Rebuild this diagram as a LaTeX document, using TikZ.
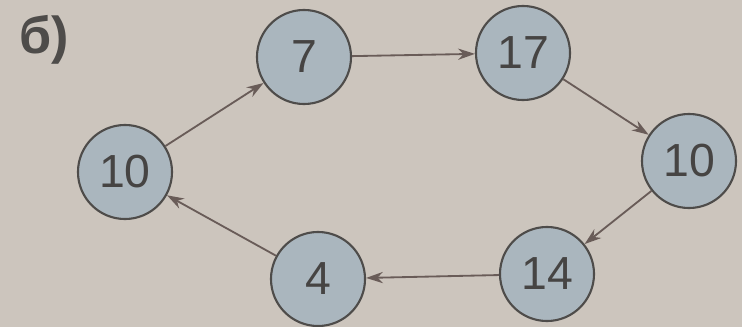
\documentclass[tikz,border=0pt]{standalone}
\usepackage{fontspec}
\setmainfont{Liberation Sans}
\usetikzlibrary{arrows.meta}
\definecolor{paper}{RGB}{204,197,189}
\definecolor{nodefill}{RGB}{170,182,190}
\definecolor{rim}{RGB}{78,76,74}
\definecolor{arrowcol}{RGB}{105,92,88}

\begin{document}
\begin{tikzpicture}[x=0.025cm,y=-0.025cm,
    num/.style={circle,draw=rim,fill=nodefill,line width=1.5pt,minimum size=2.35cm,inner sep=0pt,font=\fontsize{33}{33}\selectfont,text=rim!90!black},
    link/.style={-{Stealth[length=12pt,width=8pt]},draw=arrowcol,line width=1.3pt}]
    \fill[paper] (0,0) rectangle (742,327);
    \useasboundingbox (0,0) rectangle (742,327);
    \node[font=\bfseries\fontsize{37}{37}\selectfont,text=rim] (lbl) at (44,40) {б)};
    \node[num] (a) at (125,172) {10};
    \node[num] (b) at (304,57) {7};
    \node[num] (c) at (523,53) {17};
    \node[num] (d) at (689,161) {10};
    \node[num] (e) at (547,274) {14};
    \node[num] (f) at (318,279) {4};
    \draw[link] (a) -- (b);
    \draw[link] (b) -- (c);
    \draw[link] (c) -- (d);
    \draw[link] (d) -- (e);
    \draw[link] (e) -- (f);
    \draw[link] (f) -- (a);
\end{tikzpicture}
\end{document}
